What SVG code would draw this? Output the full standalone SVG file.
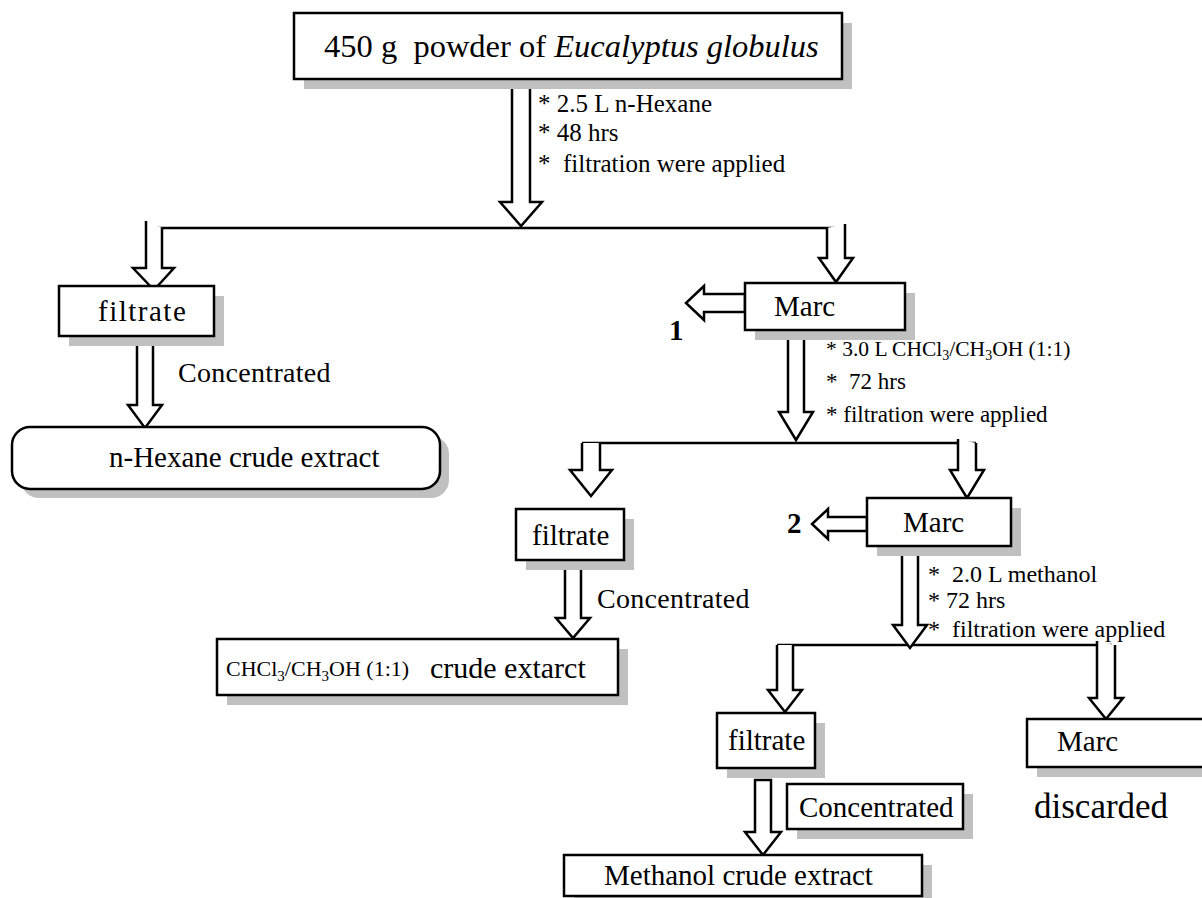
<svg xmlns="http://www.w3.org/2000/svg" width="1202" height="898" viewBox="0 0 1202 898" font-family="'Liberation Serif', 'Times New Roman', serif">
<style>
.box{fill:#fff;stroke:#000;stroke-width:2.5}
.sh{fill:#c0c0c0}
.arr{fill:#fff;stroke:#000;stroke-width:2.5;stroke-linejoin:miter}
.ln{stroke:#000;stroke-width:2.5;fill:none}
.tx{font-family:"Liberation Serif","Times New Roman",serif;fill:#000}
.t29{font-size:29px}
.t28{font-size:28px}
.t25{font-size:25px}
.t24{font-size:24px}
.t23{font-size:23px}
.b{font-weight:bold;font-size:29px}
</style>
<rect width="1202" height="898" fill="#fff"/>
<g id="connectors">
<line class="ln" x1="146" y1="228" x2="846" y2="228"/>
<line class="ln" x1="582" y1="443" x2="976" y2="443"/>
<line class="ln" x1="777" y1="645" x2="1112" y2="645"/>
<polygon class="arr" points="512,79 512,202 500,202 521,226 542,202 530,202 530,79"/>
<path class="arr" d="M146,221 V268 H133 L154,290 L174,268 H162 V228"/>
<polygon class="arr" points="137,337 137,405 128,405 145,428 162,405 153,405 153,337"/>
<path class="arr" d="M827,228 V258 H819 L836,282 L853,258 H845 V224"/>
<polygon class="arr" points="745,294 704,294 704,286 686,303 704,320 704,312 745,312"/>
<polygon class="arr" points="788,331 788,412 779,412 796,440 813,412 804,412 804,331"/>
<path class="arr" d="M582,443 V470 H570 L591,496 L612,470 H600 V443"/>
<path class="arr" d="M958,439 V470 H950 L967,498 L984,470 H976 V443"/>
<polygon class="arr" points="565,560 565,618 556,618 573,638 590,618 581,618 581,560"/>
<polygon class="arr" points="867,517 828,517 828,509 812,524 828,539 828,531 867,531"/>
<polygon class="arr" points="902,547 902,625 893,625 910,648 927,625 918,625 918,547"/>
<path class="arr" d="M777,645 V690 H768 L785,712 L802,690 H793 V645"/>
<path class="arr" d="M1097,641 V698 H1089 L1106,719 L1123,698 H1115 V645"/>
<polygon class="arr" points="755,780 755,832 745,832 763,855 781,832 771,832 771,780"/>
</g>
<g id="n-top">
<rect class="sh" x="304" y="23" width="548" height="66"/>
<rect class="box" x="294" y="13" width="548" height="66"/>
<text class="tx" x="324" y="57" font-size="32.5" xml:space="preserve">450 g  powder of <tspan font-style="italic">Eucalyptus globulus</tspan></text>
</g>
<g id="a-hexane">
<text class="tx t25" x="538" y="112">* 2.5 L n-Hexane</text>
<text class="tx t25" x="538" y="141">* 48 hrs</text>
<text class="tx t25" x="538" y="172" xml:space="preserve">*  filtration were applied</text>
</g>
<g id="n-filtrate1">
<rect class="sh" x="69" y="296" width="155" height="50"/>
<rect class="box" x="59" y="286" width="155" height="50"/>
<text class="tx t29" x="98" y="321" letter-spacing="1.5">filtrate</text>
</g>
<text class="tx t28" x="178" y="382" letter-spacing="0.3">Concentrated</text>
<g id="n-hexane">
<rect class="sh" x="21" y="436" width="428" height="62" rx="18"/>
<rect class="box" x="12" y="427" width="428" height="62" rx="18"/>
<text class="tx t29" x="109" y="467">n-Hexane crude extract</text>
</g>
<g id="n-marc1">
<rect class="sh" x="755" y="293" width="160" height="47"/>
<rect class="box" x="745" y="283" width="160" height="47"/>
<text class="tx t29" x="774" y="316">Marc</text>
</g>
<text class="tx b" x="669" y="340">1</text>
<g id="a-chcl3">
<text class="tx" x="826" y="356" font-size="21.5">* 3.0 L CHCl<tspan font-size="14" dy="4">3</tspan><tspan dy="-4">/CH</tspan><tspan font-size="14" dy="4">3</tspan><tspan dy="-4">OH (1:1)</tspan></text>
<text class="tx t23" x="826" y="389" xml:space="preserve">*  72 hrs</text>
<text class="tx t23" x="826" y="422">* filtration were applied</text>
</g>
<g id="n-filtrate2">
<rect class="sh" x="526" y="519" width="108" height="51"/>
<rect class="box" x="516" y="509" width="108" height="51"/>
<text class="tx t29" x="532" y="545">filtrate</text>
</g>
<text class="tx t28" x="597" y="608" letter-spacing="0.3">Concentrated</text>
<g id="n-chcl3">
<rect class="sh" x="227" y="649" width="401" height="56"/>
<rect class="box" x="217" y="639" width="401" height="56"/>
<text class="tx" x="226" y="676" font-size="22">CHCl<tspan font-size="15" dy="5">3</tspan><tspan dy="-5">/CH</tspan><tspan font-size="15" dy="5">3</tspan><tspan dy="-5">OH (1:1)</tspan></text>
<text class="tx" x="430" y="678" font-size="30">crude extarct</text>
</g>
<g id="n-marc2">
<rect class="sh" x="877" y="508" width="144" height="48"/>
<rect class="box" x="867" y="498" width="144" height="48"/>
<text class="tx t29" x="903" y="532">Marc</text>
</g>
<text class="tx b" x="787" y="533">2</text>
<g id="a-methanol">
<text class="tx t24" x="928" y="582" xml:space="preserve">*  2.0 L methanol</text>
<text class="tx t24" x="928" y="608">* 72 hrs</text>
<text class="tx t24" x="928" y="637" xml:space="preserve">*  filtration were applied</text>
</g>
<g id="n-filtrate3">
<rect class="sh" x="727" y="723" width="98" height="55"/>
<rect class="box" x="717" y="713" width="98" height="55"/>
<text class="tx t29" x="728" y="750">filtrate</text>
</g>
<g id="n-concentrated3">
<rect class="sh" x="797" y="794" width="176" height="45"/>
<rect class="box" x="787" y="784" width="176" height="45"/>
<text class="tx t29" x="799" y="817">Concentrated</text>
</g>
<g id="n-methanol">
<rect class="sh" x="574" y="865" width="358" height="41"/>
<rect class="box" x="564" y="855" width="358" height="41"/>
<text class="tx t29" x="604" y="885">Methanol crude extract</text>
</g>
<g id="n-marc3">
<rect class="sh" x="1037" y="729" width="180" height="48"/>
<rect class="box" x="1027" y="719" width="180" height="48"/>
<text class="tx t29" x="1057" y="751">Marc</text>
</g>
<text class="tx" x="1034" y="818" font-size="35">discarded</text>
</svg>
